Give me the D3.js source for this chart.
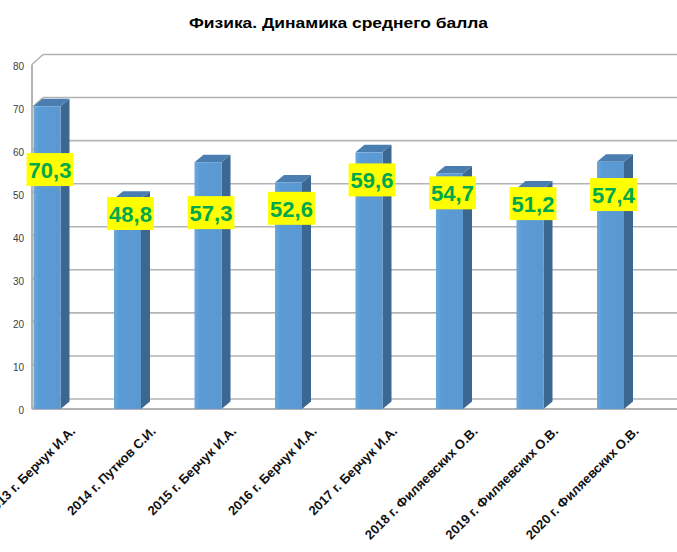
<!DOCTYPE html>
<html>
<head>
<meta charset="utf-8">
<script src="https://cdn.jsdelivr.net/npm/d3@7"></script>
<style>
  body { margin: 0; background: #fff; }
  svg { display: block; font-family: "Liberation Sans", Arial, sans-serif; }
</style>
</head>
<body>
<script>
// chart data
var categories = ["2013 г. Берчук И.А.", "2014 г. Путков С.И.", "2015 г. Берчук И.А.", "2016 г. Берчук И.А.",
  "2017 г. Берчук И.А.", "2018 г. Филяевских О.В.", "2019 г. Филяевских О.В.", "2020 г. Филяевских О.В."];
var scores = [70.3, 48.8, 57.3, 52.6, 59.6, 54.7, 51.2, 57.4];
// where each value box sits, in score units
var labelLevels = [55.6, 45.4, 45.6, 46.6, 53.2, 50.2, 47.7, 49.8];
var yTicks = [0, 10, 20, 30, 40, 50, 60, 70, 80];
var title = "Физика. Динамика среднего балла";

var W = 677, H = 552;
var wallDx = 11, wallDy = -10;   // depth of the walls
var barDx = 9, barDy = -7.5;     // depth of a bar
var barW = 27;
var axisX = 32, rightX = 700;

var svg = d3.select("body").append("svg")
  .attr("width", W).attr("height", H);

var y = d3.scaleLinear().domain([0, 80]).range([409, 64.5]);
var x = d3.scalePoint().domain(categories).range([47, 610.5]);

// gradient for the bar faces
var defs = svg.append("defs");
var grad = defs.append("linearGradient").attr("id", "front").attr("x1", 0).attr("x2", 1);
grad.append("stop").attr("offset", "0%").attr("stop-color", "#6aa7dd");
grad.append("stop").attr("offset", "20%").attr("stop-color", "#5b9bd5");
grad.append("stop").attr("offset", "100%").attr("stop-color", "#5a98d2");

// title
svg.append("text")
  .attr("x", 338.5).attr("y", 28)
  .attr("text-anchor", "middle")
  .style("font-size", "15.5px").style("font-weight", "bold")
  .attr("textLength", 299).attr("lengthAdjust", "spacingAndGlyphs")
  .text(title);

var grid = svg.append("g").attr("stroke", "#b3b3b3").attr("fill", "none");

// back wall gridlines
grid.selectAll("line.back").data(yTicks).enter().append("line")
  .attr("class", "back")
  .attr("x1", axisX + wallDx).attr("x2", rightX)
  .attr("y1", d => y(d) + wallDy).attr("y2", d => y(d) + wallDy)
  .attr("stroke-width", 1.6);

// side wall gridlines
grid.selectAll("line.side").data(yTicks).enter().append("line")
  .attr("class", "side")
  .attr("x1", axisX).attr("x2", axisX + wallDx)
  .attr("y1", d => y(d)).attr("y2", d => y(d) + wallDy)
  .attr("stroke-width", 1.6);

// left wall front edge and floor front edge
grid.append("line")
  .attr("x1", axisX).attr("x2", axisX)
  .attr("y1", y(80)).attr("y2", y(0))
  .attr("stroke-width", 2);
grid.append("line")
  .attr("x1", axisX).attr("x2", rightX)
  .attr("y1", y(0)).attr("y2", y(0))
  .attr("stroke-width", 2);

// y tick labels
svg.append("g").selectAll("text").data(yTicks).enter().append("text")
  .attr("x", 24).attr("y", d => y(d) + 1.5)
  .attr("text-anchor", "end")
  .attr("dominant-baseline", "central")
  .style("font-size", "10px").style("fill", "#404040")
  .text(d => d);

// bars
var bars = svg.append("g").selectAll("g").data(scores).enter().append("g");

bars.append("path")
  .attr("fill", "#3b6791")
  .attr("d", function(d, i) {
    var x1 = x(categories[i]) + barW / 2, t = y(d), b = y(0);
    return "M" + x1 + "," + t + " L" + (x1 + barDx) + "," + (t + barDy) +
      " L" + (x1 + barDx) + "," + (b + barDy) + " L" + x1 + "," + b + "Z";
  });
bars.append("path")
  .attr("fill", "#4a7db0")
  .attr("d", function(d, i) {
    var x0 = x(categories[i]) - barW / 2, x1 = x0 + barW, t = y(d);
    return "M" + x0 + "," + t + " L" + (x0 + barDx) + "," + (t + barDy) +
      " L" + (x1 + barDx) + "," + (t + barDy) + " L" + x1 + "," + t + "Z";
  });
bars.append("rect")
  .attr("fill", "url(#front)")
  .attr("x", (d, i) => x(categories[i]) - barW / 2)
  .attr("width", barW)
  .attr("y", d => y(d))
  .attr("height", d => y(0) - y(d));

// category labels
svg.append("g").selectAll("text").data(categories).enter().append("text")
  .attr("transform", d => "translate(" + (x(d) + 29) + ",432) rotate(-45)")
  .attr("text-anchor", "end")
  .style("font-size", "13px").style("font-weight", "bold").style("fill", "#111")
  .text(d => d);

// value boxes
var boxes = svg.append("g").selectAll("g").data(scores).enter().append("g")
  .attr("transform", (d, i) => "translate(" + (x(categories[i]) + 3) + "," + y(labelLevels[i]) + ")");
boxes.append("rect").attr("fill", "#ffff00");
boxes.append("text")
  .attr("text-anchor", "middle")
  .attr("dominant-baseline", "central")
  .attr("y", 1)
  .style("font-size", "22px").style("font-weight", "bold").style("fill", "#00a84f")
  .text(d => String(d).replace(".", ","));
boxes.each(function() {
  var g = d3.select(this);
  var w = g.select("text").node().getComputedTextLength() + 4;
  g.select("rect").attr("x", -w / 2).attr("y", -16.5).attr("width", w).attr("height", 33);
});
</script>
</body>
</html>
